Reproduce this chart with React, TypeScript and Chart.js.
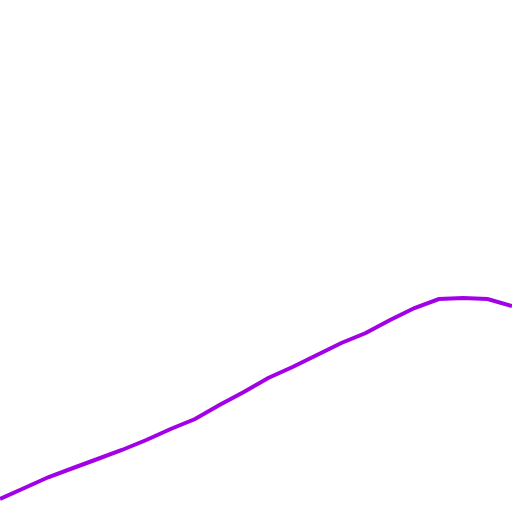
import React, { useEffect, useRef } from "react";
import { Chart, registerables } from "chart.js";

Chart.register(...registerables);

const categories = ["0","1","2","3","4","5","6","7","8","9","10","11","12","13","14","15","16","17","18","19","20","21"];
const values = [13, 24, 35, 44, 53, 62, 72, 83, 93, 107, 120, 134, 145, 157, 169, 179, 192, 204, 213, 214, 213, 206];

export default function App() {
  const ref = useRef<HTMLCanvasElement>(null);
  useEffect(() => {
    if (!ref.current) return;
    const chart = new Chart(ref.current, {
      type: "line",
      data: {
        labels: categories,
        datasets: [
          {
            data: values,
            borderColor: "#a200e6",
            borderWidth: 4,
            pointRadius: 0,
            tension: 0,
            fill: false,
          },
        ],
      },
      options: {
        animation: false,
        responsive: false,
        layout: { padding: 0 },
        plugins: { legend: { display: false }, tooltip: { enabled: false } },
        scales: {
          x: { display: false, offset: false },
          y: { display: false, min: 0, max: 512 },
        },
      },
    });
    return () => chart.destroy();
  }, []);
  return (
    <div style={{ position: "fixed", left: 0, top: 0, width: 512, height: 512, background: "#fff" }}>
      <canvas ref={ref} width={512} height={512} style={{ display: "block" }} />
    </div>
  );
}
